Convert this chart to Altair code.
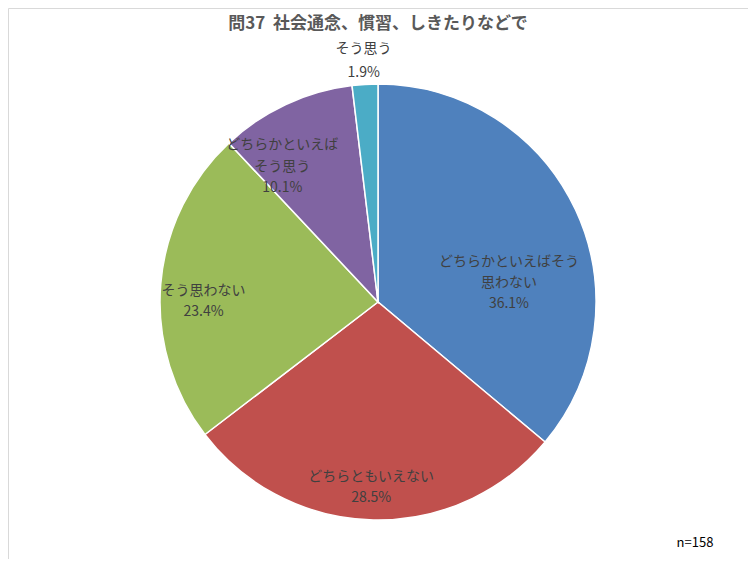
import altair as alt
import pandas as pd

categories = ["どちらかといえばそう\n思わない", "どちらともいえない", "そう思わない", "どちらかといえば\nそう思う", "そう思う"]
values = [36.1, 28.5, 23.4, 10.1, 1.9]
colors = ["#4F81BD", "#C0504D", "#9BBB59", "#8064A2", "#4BACC6"]
title_text = "問37\u00a0\u00a0社会通念、慣習、しきたりなどで"
note_text = "n=158"

df = pd.DataFrame({
    "cat": categories,
    "value": values,
    "order": list(range(len(values))),
})
df["label"] = [f"{c}\n{v:.1f}%" for c, v in zip(categories, values)]
df["key"] = [str(i) for i in range(len(values))]

W, H = 740, 551
CX, CY = 370, 294
R = 218
FONT = "Noto Sans CJK JP"

base = alt.Chart(df).encode(
    theta=alt.Theta("value:Q", stack=True),
    order=alt.Order("order:Q"),
)

pie = base.mark_arc(stroke="white", strokeWidth=1.5, radius=R).encode(
    color=alt.Color("key:N", scale=alt.Scale(domain=df["key"].tolist(), range=colors), legend=None),
    x=alt.value(CX), y=alt.value(CY),
)


def label_layer(cond, radius, lh, dy, dx=0):
    return base.mark_text(
        radius=radius, font=FONT, fontSize=14, color="#404040",
        lineBreak="\n", align="center", baseline="middle", lineHeight=lh,
        dy=dy, dx=dx,
    ).encode(
        text="label:N", x=alt.value(CX), y=alt.value(CY),
        opacity=alt.condition(cond, alt.value(1), alt.value(0)),
    )


lab_blue = label_layer("datum.key == '0'", 150, 21, 23, -5)
lab_two = label_layer("datum.key == '1' || datum.key == '2'", 172, 21, 3, -3)
lab_purple = label_layer("datum.key == '3'", 160, 21.5, -12, -28)
lab_teal = label_layer("datum.key == '4'", 241, 24, -12)

note = alt.Chart(pd.DataFrame({"t": [note_text]})).mark_text(
    font=FONT, fontSize=13, color="#000000", align="center", baseline="middle"
).encode(text="t:N", x=alt.value(687), y=alt.value(535))

chart = alt.layer(pie, lab_blue, lab_two, lab_purple, lab_teal, note).properties(
    width=W, height=H,
    title=alt.TitleParams(title_text, font=FONT, fontSize=17, fontWeight="bold",
                          color="#595959", anchor="middle", offset=-25),
    autosize=alt.AutoSizeParams(type="none"),
    padding=0,
).configure_view(stroke="#D9D9D9", strokeWidth=1)

chart.save("out.html", embed_options={"renderer": "svg", "actions": False})
